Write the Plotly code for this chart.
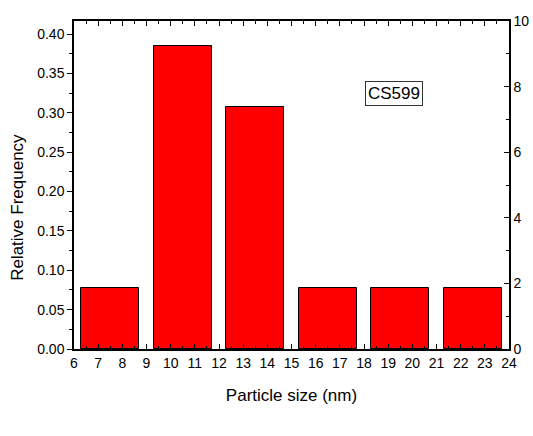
import plotly.graph_objects as go

# Particle size histogram (bin centres in nm) and relative frequencies
bin_centers = [7.5, 10.5, 13.5, 16.5, 19.5, 22.5]
rel_freq = [1/13, 5/13, 4/13, 1/13, 1/13, 1/13]
bar_width = 2.4
sample_label = "CS599"
y_title = "Relative Frequency"

x_ticks = list(range(6, 25))
y_ticks = [0.00, 0.05, 0.10, 0.15, 0.20, 0.25, 0.30, 0.35, 0.40]
y2_ticks = [0, 2, 4, 6, 8, 10]

font = "Liberation Sans, Arial, sans-serif"

fig = go.Figure()
fig.add_trace(go.Bar(
    x=bin_centers, y=rel_freq, width=bar_width,
    marker=dict(color="#FF0000", line=dict(color="black", width=1)),
    showlegend=False,
))
# invisible trace to activate the right-hand count axis
fig.add_trace(go.Scatter(x=[6], y=[0], yaxis="y2", mode="markers",
                         marker=dict(opacity=0), showlegend=False, hoverinfo="skip"))

fig.update_layout(
    width=533, height=436,
    margin=dict(l=74, r=24, t=21, b=87),
    paper_bgcolor="white", plot_bgcolor="white",
    font=dict(family=font, size=14, color="black"),
    xaxis=dict(
        range=[6, 24], tickvals=x_ticks, ticktext=[str(v) for v in x_ticks],
        ticks="inside", ticklen=5, tickwidth=1, tickcolor="black",
        minor=dict(dtick=0.5, tick0=6, ticks="inside", ticklen=3, tickcolor="black"),
        showline=True, linecolor="black", linewidth=1.5, mirror="ticks",
        showgrid=False, zeroline=False, automargin=False,
        title=dict(text="Particle size (nm)", font=dict(size=17), standoff=20),
        tickfont=dict(size=14),
    ),
    yaxis=dict(
        range=[0, 10/24], tickvals=y_ticks, ticktext=[f"{v:.2f}" for v in y_ticks],
        ticks="outside", ticklen=5, tickwidth=1, tickcolor="black",
        minor=dict(dtick=0.025, tick0=0, ticks="outside", ticklen=3, tickcolor="black"),
        showline=True, linecolor="black", linewidth=1.5,
        showgrid=False, zeroline=False, automargin=False,
        tickfont=dict(size=14),
    ),
    yaxis2=dict(
        overlaying="y", side="right", range=[0, 10], tickvals=y2_ticks,
        ticks="inside", ticklen=5, tickwidth=1, tickcolor="black",
        minor=dict(dtick=1, tick0=0, ticks="inside", ticklen=3, tickcolor="black"),
        showline=True, linecolor="black", linewidth=1.5,
        showgrid=False, zeroline=False, automargin=False, tickfont=dict(size=14),
    ),
    bargap=0,
)

# left axis title, placed slightly below the plot's vertical centre
fig.add_annotation(
    x=-0.129, y=0.433, xref="paper", yref="paper", text=y_title, showarrow=False,
    textangle=-90, xanchor="center", yanchor="middle", font=dict(size=17, family=font),
)

fig.add_annotation(
    x=19.25, y=0.325, xref="x", yref="y", text=sample_label, showarrow=False,
    font=dict(size=17, family=font), bordercolor="#333333", borderwidth=1,
    borderpad=2, bgcolor="white",
)

fig.write_html("out.html")
